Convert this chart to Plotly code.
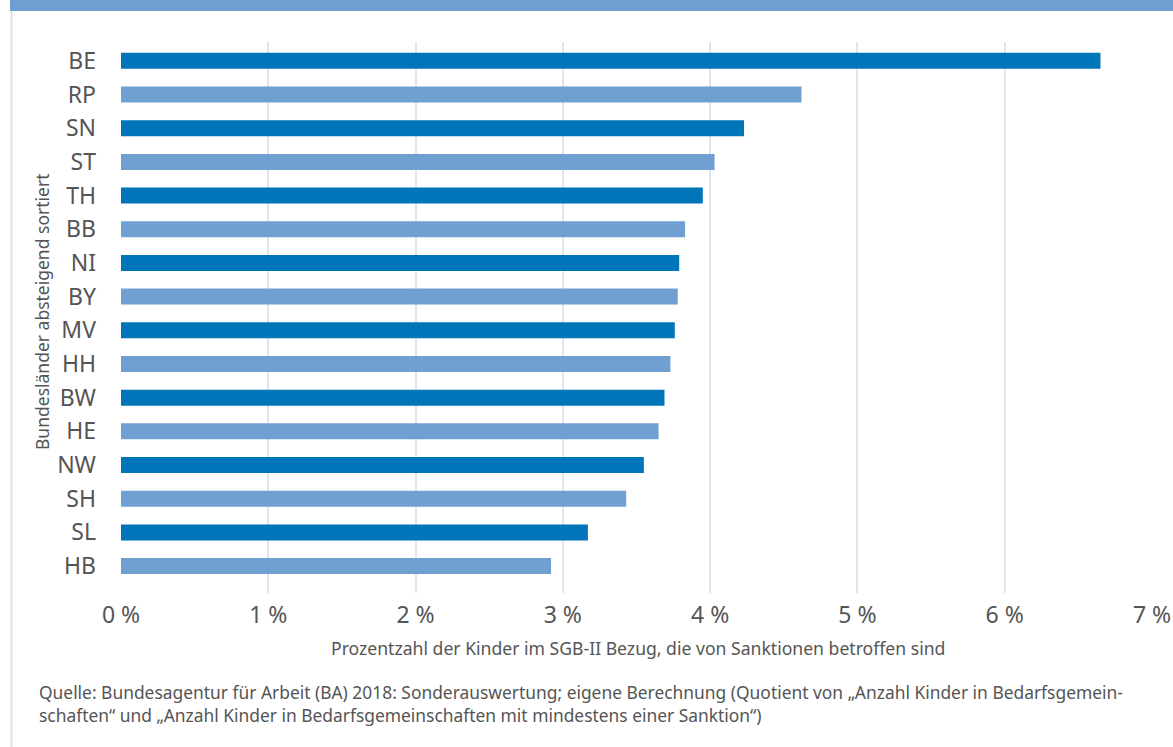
import plotly.graph_objects as go

states = ["BE", "RP", "SN", "ST", "TH", "BB", "NI", "BY", "MV", "HH", "BW", "HE", "NW", "SH", "SL", "HB"]
values = [6.65, 4.62, 4.23, 4.03, 3.95, 3.83, 3.79, 3.78, 3.76, 3.73, 3.69, 3.65, 3.55, 3.43, 3.17, 2.92]
x_ticks = [0, 1, 2, 3, 4, 5, 6, 7]
x_tick_labels = ["0 %", "1 %", "2 %", "3 %", "4 %", "5 %", "6 %", "7 %"]

DARK = "#0075b9"
LIGHT = "#70a0d1"
colors = [DARK if i % 2 == 0 else LIGHT for i in range(len(states))]

FONT = "Noto Sans"
TXT = "#555555"

W, H = 1173, 747
L, R, T, B = 121, 1152, 42, 593
PW, PH = R - L, B - T

fig = go.Figure(go.Bar(
    x=values, y=states, orientation="h",
    marker=dict(color=colors, line=dict(width=0)),
    width=0.475,
))

fig.update_layout(
    width=W, height=H,
    margin=dict(l=L, r=W - R, t=T, b=H - B, pad=0, autoexpand=False),
    paper_bgcolor="white", plot_bgcolor="white",
    showlegend=False,
    font=dict(family=FONT, color=TXT),
)
fig.update_xaxes(
    range=[0, 7], tickvals=x_ticks, ticktext=x_tick_labels,
    showgrid=True, gridcolor="#dde5f1", gridwidth=2,
    zeroline=False, showline=False, ticks="", automargin=False,
    tickfont=dict(size=23, color=TXT, family=FONT),
    ticklabelstandoff=6,
)
fig.update_yaxes(
    type="category", categoryorder="array", categoryarray=states,
    range=[15.8, -0.56], automargin=False,
    showgrid=False, zeroline=False, showline=False, ticks="",
    tickfont=dict(size=23, color=TXT, family=FONT),
    ticklabelstandoff=24,
)

def px(xp):
    return (xp - L) / PW

def py(yp):
    return 1 - (yp - T) / PH

# banner and left border
fig.add_shape(type="rect", xref="paper", yref="paper",
              x0=px(10), x1=px(W), y0=py(11), y1=py(0),
              fillcolor="#6f9fd1", line=dict(width=0), layer="below")
fig.add_shape(type="line", xref="paper", yref="paper",
              x0=px(11.5), x1=px(11.5), y0=py(H), y1=py(11),
              line=dict(color="#dbe5f1", width=2))

fig.add_annotation(
    text="Prozentzahl der Kinder im SGB-II Bezug, die von Sanktionen betroffen sind",
    xref="paper", yref="paper", x=px(638), y=py(648),
    xanchor="center", yanchor="middle", showarrow=False,
    font=dict(size=17.6, color=TXT, family=FONT),
)
fig.add_annotation(
    text="Bundesländer absteigend sortiert",
    xref="paper", yref="paper", x=px(42), y=py(312),
    xanchor="center", yanchor="middle", textangle=-90, showarrow=False,
    font=dict(size=17.5, color=TXT, family=FONT),
)
fig.add_annotation(
    text="Quelle: Bundesagentur für Arbeit (BA) 2018: Sonderauswertung; eigene Berechnung (Quotient von „Anzahl Kinder in Bedarfsgemein-<br>"
         "schaften“ und „Anzahl Kinder in Bedarfsgemeinschaften mit mindestens einer Sanktion“)",
    xref="paper", yref="paper", x=px(37), y=py(678),
    xanchor="left", yanchor="top", align="left", showarrow=False,
    font=dict(size=17.4, color=TXT, family=FONT),
)

fig.write_html(
    "out.html",
    config={"displayModeBar": False},
    post_script="document.body.style.margin='0';document.body.style.overflow='hidden';",
)
